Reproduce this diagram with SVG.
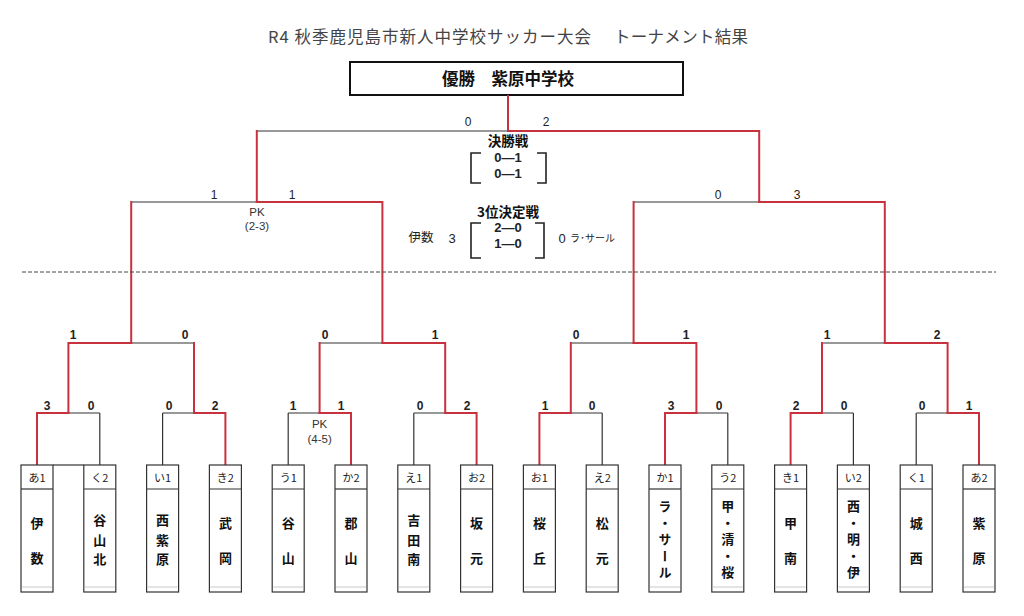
<svg xmlns="http://www.w3.org/2000/svg" width="1024" height="616" viewBox="0 0 1024 616">
<style>
text{font-family:"Noto Sans CJK JP","Liberation Sans",sans-serif;fill:#222;text-anchor:middle}
.title{font-size:16.5px;fill:#444;text-anchor:start}
.champ{font-size:16.5px;font-weight:bold;fill:#111}
.sc{font-family:"Liberation Sans","Noto Sans CJK JP",sans-serif;font-size:12px;fill:#222}
.scb{font-family:"Liberation Sans","Noto Sans CJK JP",sans-serif;font-size:12px;font-weight:bold;fill:#222}
.res{font-family:"Liberation Sans","Noto Sans CJK JP",sans-serif;font-size:13px;font-weight:bold;fill:#222}
.hd{font-size:13.5px;font-weight:bold;fill:#111}
.pk{font-family:"Liberation Sans","Noto Sans CJK JP",sans-serif;font-size:11.5px;fill:#333}
.lab{font-size:11px;fill:#222}
.nm{font-size:13px;font-weight:bold;fill:#111}
.nmv{font-size:13px;font-weight:bold;fill:#111;writing-mode:vertical-rl;text-anchor:start;letter-spacing:3.5px}
.blk{fill:none;stroke:#333;stroke-width:1.2}
.red{fill:none;stroke:#c8323f;stroke-width:2;stroke-linecap:square}
.box{fill:#fff;stroke:#333;stroke-width:1.2}
.faint{stroke:#c8c8c8;stroke-width:1}
.brk{fill:none;stroke:#222;stroke-width:1.6}
</style>

<g id="title">
<text class="title" x="268" y="43" textLength="323" lengthAdjust="spacing">R4 秋季鹿児島市新人中学校サッカー大会</text>
<text class="title" x="614" y="43" textLength="134" lengthAdjust="spacing">トーナメント結果</text>
</g>

<g id="champion">
<rect x="350" y="62" width="333" height="33" fill="#fff" stroke="#111" stroke-width="2"/>
<text class="champ" x="508" y="85">優勝　紫原中学校</text>
</g>

<g id="connectors">
<path class="blk" d="M37 413H99.8M162.6 413H225.4M288.2 413H351M413.8 413H476.6M539.4 413H602.2M665 413H727.8M790.6 413H853.4M916.2 413H979"/>
<path class="blk" d="M99.8 465V413M162.6 465V413M288.2 465V413M413.8 465V413M602.2 465V413M727.8 465V413M853.4 465V413M916.2 465V413"/>
<path class="blk" d="M68.4 343H194M319.6 343H445.2M570.8 343H696.4M822 343H947.6"/>
<path class="blk" d="M131.2 202H382.4M633.6 202H884.8M256.8 131H759.2"/>
<path class="blk" d="M53 465H83.8"/>
<path class="red" d="M37 465V413H68.4M225.4 465V413H194M351 465V413H319.6M476.6 465V413H445.2M539.4 465V413H570.8M665 465V413H696.4M790.6 465V413H822M979 465V413H947.6"/>
<path class="red" d="M68.4 413V343H131.2M194 413V343M319.6 413V343M445.2 413V343H382.4M570.8 413V343M696.4 413V343H633.6M822 413V343M947.6 413V343H884.8"/>
<path class="red" d="M131.2 343V202M382.4 343V202H256.8M633.6 343V202M884.8 343V202H759.2"/>
<path class="red" d="M256.8 202V131M759.2 202V131H508M508 131V96"/>
<path d="M22 272H996" stroke="#444" stroke-width="1" stroke-dasharray="4 2"/>
</g>

<g id="scores">
<text class="sc" x="468" y="126">0</text>
<text class="sc" x="546" y="126">2</text>
<text class="sc" x="214" y="199">1</text>
<text class="sc" x="292" y="199">1</text>
<text class="sc" x="718" y="199">0</text>
<text class="sc" x="797" y="199">3</text>
<text class="pk" x="257" y="216">PK</text>
<text class="pk" x="257" y="230">(2-3)</text>

<text class="scb" x="73" y="339">1</text>
<text class="scb" x="185" y="339">0</text>
<text class="scb" x="325" y="339">0</text>
<text class="scb" x="435" y="339">1</text>
<text class="scb" x="576" y="339">0</text>
<text class="scb" x="686" y="339">1</text>
<text class="scb" x="827" y="339">1</text>
<text class="scb" x="937" y="339">2</text>

<text class="scb" x="47" y="410">3</text>
<text class="scb" x="91" y="410">0</text>
<text class="scb" x="169" y="410">0</text>
<text class="scb" x="215" y="410">2</text>
<text class="scb" x="293" y="410">1</text>
<text class="scb" x="341" y="410">1</text>
<text class="scb" x="420" y="410">0</text>
<text class="scb" x="467" y="410">2</text>
<text class="scb" x="545" y="410">1</text>
<text class="scb" x="592" y="410">0</text>
<text class="scb" x="671" y="410">3</text>
<text class="scb" x="719" y="410">0</text>
<text class="scb" x="796" y="410">2</text>
<text class="scb" x="844" y="410">0</text>
<text class="scb" x="922" y="410">0</text>
<text class="scb" x="969" y="410">1</text>
<text class="pk" x="319.6" y="428">PK</text>
<text class="pk" x="319.6" y="443">(4-5)</text>
</g>

<g id="final-info">
<text class="hd" x="508" y="146">決勝戦</text>
<path class="brk" d="M481 153H471V183H481M537 153H546V183H537"/>
<text class="res" x="508" y="162">0—1</text>
<text class="res" x="508" y="178">0—1</text>
</g>

<g id="third-place">
<text class="hd" x="508" y="217">3位決定戦</text>
<path class="brk" d="M481 223H471V258H481M535 223H544V258H535"/>
<text class="res" x="508" y="232">2—0</text>
<text class="res" x="508" y="248">1—0</text>
<text class="lab" x="421" y="242" style="font-size:12.5px">伊数</text>
<text class="sc" x="452" y="243" style="font-size:13px">3</text>
<text class="sc" x="562" y="243" style="font-size:13px">0</text>
<text class="lab" x="570" y="242" style="font-size:10px;text-anchor:start">ラ･サール</text>
</g>

<g id="team-a1"><rect class="box" x="21" y="465" width="32" height="127"/><path class="blk" d="M21 489H53"/><path class="faint" d="M22 587H52"/><text class="lab" x="37" y="482">あ1</text><text class="nm" x="37" y="528">伊</text><text class="nm" x="37" y="563">数</text></g>
<g id="team-ku2"><rect class="box" x="83.8" y="465" width="32" height="127"/><path class="blk" d="M83.8 489H115.8"/><path class="faint" d="M84.8 587H114.8"/><text class="lab" x="99.8" y="482">く2</text><text class="nm" x="99.8" y="525">谷</text><text class="nm" x="99.8" y="545">山</text><text class="nm" x="99.8" y="564">北</text></g>
<g id="team-i1"><rect class="box" x="146.6" y="465" width="32" height="127"/><path class="blk" d="M146.6 489H178.6"/><path class="faint" d="M147.6 587H177.6"/><text class="lab" x="162.6" y="482">い1</text><text class="nm" x="162.6" y="525">西</text><text class="nm" x="162.6" y="545">紫</text><text class="nm" x="162.6" y="564">原</text></g>
<g id="team-ki2"><rect class="box" x="209.4" y="465" width="32" height="127"/><path class="blk" d="M209.4 489H241.4"/><path class="faint" d="M210.4 587H240.4"/><text class="lab" x="225.4" y="482">き2</text><text class="nm" x="225.4" y="528">武</text><text class="nm" x="225.4" y="563">岡</text></g>
<g id="team-u1"><rect class="box" x="272.2" y="465" width="32" height="127"/><path class="blk" d="M272.2 489H304.2"/><path class="faint" d="M273.2 587H303.2"/><text class="lab" x="288.2" y="482">う1</text><text class="nm" x="288.2" y="528">谷</text><text class="nm" x="288.2" y="563">山</text></g>
<g id="team-ka2"><rect class="box" x="335" y="465" width="32" height="127"/><path class="blk" d="M335 489H367"/><path class="faint" d="M336 587H366"/><text class="lab" x="351" y="482">か2</text><text class="nm" x="351" y="528">郡</text><text class="nm" x="351" y="563">山</text></g>
<g id="team-e1"><rect class="box" x="397.8" y="465" width="32" height="127"/><path class="blk" d="M397.8 489H429.8"/><path class="faint" d="M398.8 587H428.8"/><text class="lab" x="413.8" y="482">え1</text><text class="nm" x="413.8" y="525">吉</text><text class="nm" x="413.8" y="545">田</text><text class="nm" x="413.8" y="564">南</text></g>
<g id="team-o2"><rect class="box" x="460.6" y="465" width="32" height="127"/><path class="blk" d="M460.6 489H492.6"/><path class="faint" d="M461.6 587H491.6"/><text class="lab" x="476.6" y="482">お2</text><text class="nm" x="476.6" y="528">坂</text><text class="nm" x="476.6" y="563">元</text></g>
<g id="team-o1"><rect class="box" x="523.4" y="465" width="32" height="127"/><path class="blk" d="M523.4 489H555.4"/><path class="faint" d="M524.4 587H554.4"/><text class="lab" x="539.4" y="482">お1</text><text class="nm" x="539.4" y="528">桜</text><text class="nm" x="539.4" y="563">丘</text></g>
<g id="team-e2"><rect class="box" x="586.2" y="465" width="32" height="127"/><path class="blk" d="M586.2 489H618.2"/><path class="faint" d="M587.2 587H617.2"/><text class="lab" x="602.2" y="482">え2</text><text class="nm" x="602.2" y="528">松</text><text class="nm" x="602.2" y="563">元</text></g>
<g id="team-ka1"><rect class="box" x="649" y="465" width="32" height="127"/><path class="blk" d="M649 489H681"/><path class="faint" d="M650 587H680"/><text class="lab" x="665" y="482">か1</text><text class="nmv" x="665" y="500">ラ・サール</text></g>
<g id="team-u2"><rect class="box" x="711.8" y="465" width="32" height="127"/><path class="blk" d="M711.8 489H743.8"/><path class="faint" d="M712.8 587H742.8"/><text class="lab" x="727.8" y="482">う2</text><text class="nmv" x="727.8" y="500">甲・清・桜</text></g>
<g id="team-ki1"><rect class="box" x="774.6" y="465" width="32" height="127"/><path class="blk" d="M774.6 489H806.6"/><path class="faint" d="M775.6 587H805.6"/><text class="lab" x="790.6" y="482">き1</text><text class="nm" x="790.6" y="528">甲</text><text class="nm" x="790.6" y="563">南</text></g>
<g id="team-i2"><rect class="box" x="837.4" y="465" width="32" height="127"/><path class="blk" d="M837.4 489H869.4"/><path class="faint" d="M838.4 587H868.4"/><text class="lab" x="853.4" y="482">い2</text><text class="nmv" x="853.4" y="500">西・明・伊</text></g>
<g id="team-ku1"><rect class="box" x="900.2" y="465" width="32" height="127"/><path class="blk" d="M900.2 489H932.2"/><path class="faint" d="M901.2 587H931.2"/><text class="lab" x="916.2" y="482">く1</text><text class="nm" x="916.2" y="528">城</text><text class="nm" x="916.2" y="563">西</text></g>
<g id="team-a2"><rect class="box" x="963" y="465" width="32" height="127"/><path class="blk" d="M963 489H995"/><path class="faint" d="M964 587H994"/><text class="lab" x="979" y="482">あ2</text><text class="nm" x="979" y="528">紫</text><text class="nm" x="979" y="563">原</text></g>
</svg>
